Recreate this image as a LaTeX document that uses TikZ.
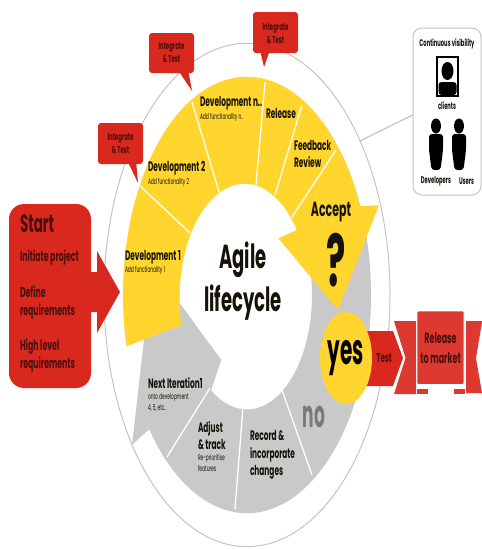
\documentclass[tikz,border=0pt]{standalone}
\usepackage{fontspec}
\setmainfont{Poppins}
\definecolor{ared}{HTML}{D9291F}
\definecolor{ayel}{HTML}{FFD52E}
\definecolor{agry}{HTML}{C9C9C9}
\definecolor{alin}{HTML}{C4C4C4}
\definecolor{atxt}{HTML}{161208}
\definecolor{rtxt}{HTML}{4A0E0C}
\newcommand{\fs}[2]{\fontsize{#1}{#2}\selectfont\bfseries}
\newcommand{\fsub}[2]{\fontsize{#1}{#2}\selectfont\mdseries}
\tikzset{
 lab/.style={transform shape,yscale=1.85,inner sep=0pt,outer sep=0pt,align=left,anchor=west,text=atxt},
 ctr/.style={transform shape,yscale=1.85,inner sep=0pt,outer sep=0pt,align=center,text=atxt},
 head/.style={font=\fs{7.4}{9.6}},
 sub/.style={font=\fsub{4.4}{5.6}},
 gapl/.style={draw=white,line width=1.3pt},
 callout/.style={fill=ared,rounded corners=3pt},
 person/.style={fill=black},
 calltxt/.style={ctr,text=rtxt,font=\fs{5.4}{7}},
 viz/.style={ctr,font=\fs{5.2}{6}},
 req/.style={lab,text=rtxt,font=\fs{7.8}{10}},
}
\begin{document}
\begin{tikzpicture}[x=1pt,y=-1pt]
\path[use as bounding box,fill=white] (0,0) rectangle (482,549);

% rings
\begin{scope}[shift={(247,295)},x=1pt,y=1pt,yscale=1.76]
 \draw[alin,line width=1pt] (0,0) ellipse [x radius=143,y radius=143];
 % grey ring with arrow
 \fill[agry] (40:124) arc[start angle=40,end angle=-131,radius=124]
   -- (-142:124) -- (-143.5:143) -- (170:96) -- (-125:45) -- (-123.5:65)
   arc[start angle=-123.5,end angle=50,radius=65] -- cycle;
 \fill[agry] (-131:124) arc[start angle=-131,end angle=-142,radius=124] -- (-142:70) -- (-131:70) -- cycle;
 % yellow ring with arrow
 \fill[ayel] (193.6:124) arc[start angle=193.6,end angle=24,radius=124]
   -- (132,51) -- (91,-8.5) -- (45.8:45) -- (36.5:62)
   arc[start angle=36.5,end angle=193.6,radius=65] -- cycle;
\end{scope}

% separators
\draw[gapl] (139,185) -- (190,233);
\draw[gapl] (192,102) -- (219,192);
\draw[gapl] (265,82) -- (256,185);
\draw[gapl] (302,105) -- (275,195);
\draw[gapl] (336,150) -- (292,217);
\draw[gapl] (167,457) -- (210,388);
\draw[gapl] (235,509) -- (243,407);
\draw[gapl] (312,475) -- (282,390);

% start
\fill[ared] (91,272) -- (97,272) -- (97,251) -- (120,292) -- (97,333) -- (97,312) -- (91,312) -- cycle;
\fill[ared,rounded corners=15pt] (9,204) rectangle (91,388);

% callouts
\fill[ared] (127,160) -- (138,183) -- (136,160) -- cycle;
\fill[callout] (98,123) rectangle (143,164);
\fill[ared] (178,70) -- (192,91) -- (188,70) -- cycle;
\fill[callout] (149,33) rectangle (194,73);
\fill[ared] (260,50) -- (264,67) -- (270,50) -- cycle;
\fill[callout] (253,12) rectangle (298,53);

% Test arrow, ribbon
\fill[ared] (362,331) -- (393,331) -- (403,358) -- (393,386) -- (362,386) -- cycle;
\fill[ared!92!white] (394,321) -- (416,321) -- (416,394) -- (394,394) -- (405.5,358) -- cycle;
\fill[ared!92!white] (466,321) -- (482,321) -- (482,322) -- (476,358) -- (482,393) -- (466,393) -- cycle;
\fill[ared!92!white] (417,389) rectangle (428,393.5);
\fill[ared!92!white] (454,389) rectangle (465,393.5);
\fill[white] (417,385) rectangle (428,389);
\fill[white] (454,385) rectangle (465,389);
\draw[white,line width=.8pt,fill=ared!92!white,rounded corners=1pt] (417,311) rectangle (464,384.5);

% yes circle
\fill[ayel] (346,358) ellipse [x radius=26,y radius=46];

% visibility
\node[draw=alin,line width=1pt,rounded corners=9pt,minimum width=68pt,minimum height=167pt,inner sep=0pt] (vis) at (447,111.5) {};
\coordinate (ringpt) at (360,141);
\draw[alin,line width=1.2pt] (vis.west |- 0,115) -- (ringpt);

% clients icon
\draw[black,line width=2pt,fill=white] (437,57) rectangle (458,96);
\fill[person] (447.5,71) ellipse [x radius=6,y radius=9];
\fill[person,rounded corners=3pt] (438.5,95) -- (438.5,82) -- (456.5,82) -- (456.5,95) -- cycle;
% people
\fill[person] (436,126) ellipse [x radius=5,y radius=7.5];
\fill[person,rounded corners=3pt] (429,150) -- (429,134) -- (443,134) -- (443,150) -- (440.5,170) -- (431.5,170) -- cycle;
\fill[person] (459,126) ellipse [x radius=5,y radius=7.5];
\fill[person,rounded corners=3pt] (452,150) -- (452,134) -- (466,134) -- (466,150) -- (463.5,170) -- (454.5,170) -- cycle;

% text: ring
\node[lab,head] (d1) at (125,257) {Development 1};
\node[lab,sub] (d1s) at (125,270) {Add functionality 1};
\node[lab,head] (d2) at (148,168) {Development 2};
\node[lab,sub] (d2s) at (148,182) {Add functionality 2};
\node[lab,head] (dn) at (200,103) {Development n..};
\node[lab,sub] (dns) at (200,117) {Add functionality n..};
\node[lab,head] (rel) at (266,113) {Release};
\node[lab,head] (fb) at (294,154) {Feedback\\Review};
\node[ctr,font=\fs{11}{12}] (acc) at (331,212) {Accept};
\node[ctr,yscale=1.08,font=\fs{36}{36}] (q) at (336,260) {?};
\node[ctr,font=\fs{18}{20}] (ag) at (243,260) {Agile};
\node[ctr,font=\fs{18}{20}] (lc) at (243,303) {lifecycle};
\node[lab,head] (nx) at (148,383) {Next Iteration1};
\node[lab,sub] (nxs) at (148,402.5) {onto development\\4, 5, etc..};
\node[lab,head] (aj) at (198,435.5) {Adjust\\\& track};
\node[lab,sub] (ajs) at (198,463) {Re-prioritise\\features};
\node[lab,head] (rc) at (250,455) {Record \&\\incorporate\\changes};
\node[ctr,yscale=1.2,text=black!52,font=\fs{17}{18}] (no) at (314,417) {no};
\node[ctr,yscale=1.15,text=black,font=\fs{20}{22}] (ys) at (346,358) {yes};
\node[ctr,text=rtxt,font=\fs{7}{8}] (ts) at (384,358) {Test};
\node[ctr,text=rtxt,font=\fs{8}{11}] (rm) at (440.5,348) {Release\\to market};
\node[lab,text=rtxt,font=\fs{13.5}{14}] (st) at (20,224) {Start};
\node[req] (ip) at (20,258) {Initiate project};
\node[req] (df) at (20,302.5) {Define\\requirements};
\node[req] (hl) at (20,355.5) {High level\\requirements};
\node[calltxt] (c1) at (120.5,143.5) {Integrate\\\& Test};
\node[calltxt] (c2) at (171.5,53) {Integrate\\\& Test};
\node[calltxt] (c3) at (275.5,33.5) {Integrate\\\& Test};
% text: visibility
\node[viz] (cv) at (447,44) {Continuous visibility};
\node[viz] (cl) at (447,106) {clients};
\node[viz] (dv) at (436,181) {Developers};
\node[viz] (us) at (466.5,181) {Users};
\end{tikzpicture}
\end{document}
